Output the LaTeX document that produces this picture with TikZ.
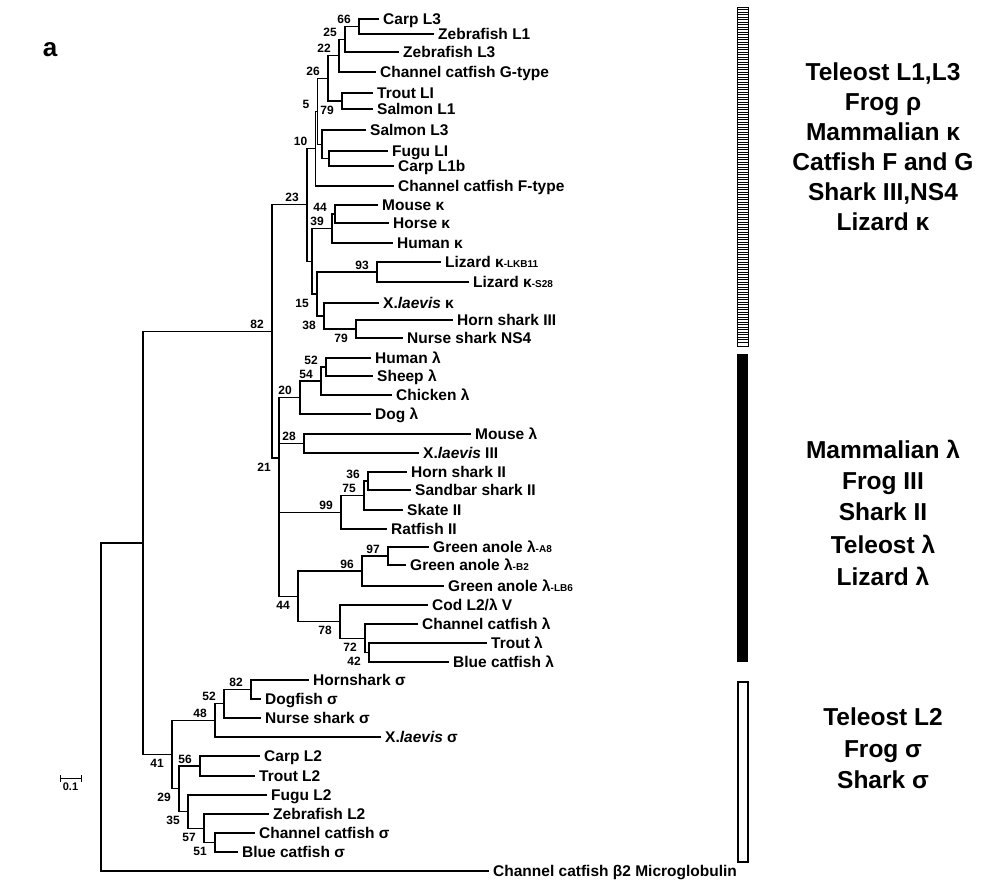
\documentclass[tikz,border=0pt]{standalone}
\usepackage{fontspec}
\setmainfont{Liberation Sans}
\newcommand\Leaf[4]{\coordinate (#1) at (#2,#3); \node[leaf] (#1t) at ([xshift=5pt,yshift=-5.6pt]#1) {#4};}
\newcommand\Br[2]{\draw[br] (#1) |- (#2);}
\newcommand\Ba[3]{\node[bs] (#1) at ([xshift=-8pt,yshift=3pt]#2) {#3};}
\newcommand\Bb[3]{\node[bs] (#1) at ([xshift=-8pt,yshift=-13pt]#2) {#3};}
\newcommand\GL[3]{\node[grp] (#1) at (883,#2) {#3};}
\newcommand\sm[1]{{\fontsize{10}{10}\selectfont #1}}
\begin{document}
\begin{tikzpicture}[x=1pt,y=-1pt,
  br/.style={line width=1.1pt,line cap=rect},
  leaf/.style={anchor=base west,inner sep=0pt,font=\bfseries\fontsize{15.5}{16}\selectfont},
  bs/.style={anchor=base east,inner sep=0pt,font=\bfseries\fontsize{12}{12}\selectfont},
  grp/.style={anchor=base,inner sep=0pt,yshift=-8.8pt,font=\bfseries\fontsize{24.5}{26}\selectfont}]
\useasboundingbox (0,0) rectangle (991,879);
% ---------- leaves ----------
\Leaf{carpL3}{378}{19}{Carp L3}
\Leaf{zfL1}{433}{34}{Zebrafish L1}
\Leaf{zfL3}{398}{52}{Zebrafish L3}
\Leaf{gtype}{375}{72}{Channel catfish G-type}
\Leaf{troutLI}{372}{93}{Trout LI}
\Leaf{salmonL1}{372}{109}{Salmon L1}
\Leaf{salmonL3}{365}{130}{Salmon L3}
\Leaf{fuguLI}{387}{151}{Fugu LI}
\Leaf{carpL1b}{393}{166}{Carp L1b}
\Leaf{ftype}{393}{186}{Channel catfish F-type}
\Leaf{mouseK}{377}{205}{Mouse κ}
\Leaf{horseK}{388}{223}{Horse κ}
\Leaf{humanK}{392}{243}{Human κ}
\Leaf{lkb}{440}{262}{Lizard κ\sm{-LKB11}}
\Leaf{szn}{468}{282}{Lizard κ\sm{-S28}}
\Leaf{xlK}{378}{303}{X.\textit{laevis} κ}
\Leaf{hsIII}{452}{320}{Horn shark III}
\Leaf{nsf}{402}{338}{Nurse shark NS4}
\Leaf{humanL}{370}{358}{Human λ}
\Leaf{sheepL}{372}{376}{Sheep λ}
\Leaf{chickenL}{391}{395}{Chicken λ}
\Leaf{dogL}{370}{414}{Dog λ}
\Leaf{mouseL}{470}{434}{Mouse λ}
\Leaf{xlIII}{418}{453}{X.\textit{laevis} III}
\Leaf{hsII}{406}{472}{Horn shark II}
\Leaf{sandbar}{410}{490}{Sandbar shark II}
\Leaf{skate}{402}{510}{Skate II}
\Leaf{ratfish}{386}{529}{Ratfish II}
\Leaf{gaA}{428}{547}{Green anole λ\sm{-A8}}
\Leaf{gaB}{405}{565}{Green anole λ\sm{-B2}}
\Leaf{gaLB}{443}{586}{Green anole λ\sm{-LB6}}
\Leaf{cod}{427}{605}{Cod L2/λ V}
\Leaf{chcatL}{417}{624}{Channel catfish λ}
\Leaf{troutL}{486}{643}{Trout λ}
\Leaf{bluecatL}{448}{662}{Blue catfish λ}
\Leaf{hornS}{308}{680}{Hornshark σ}
\Leaf{dogS}{260}{699}{Dogfish σ}
\Leaf{nurseS}{260}{718}{Nurse shark σ}
\Leaf{xlS}{380}{737}{X.\textit{laevis} σ}
\Leaf{carpLII}{259}{756}{Carp L2}
\Leaf{troutLII}{254}{776}{Trout L2}
\Leaf{fuguLII}{266}{795}{Fugu L2}
\Leaf{zfLII}{268}{814}{Zebrafish L2}
\Leaf{chcatS}{254}{833}{Channel catfish σ}
\Leaf{bluecatS}{237}{852}{Blue catfish σ}
\Leaf{btwo}{488}{871}{Channel catfish β2 Microglobulin}
% ---------- internal nodes ----------
\coordinate (n66) at (359,26.5);
\coordinate (n25) at (345,39.25);
\coordinate (n22) at (339,55.6);
\coordinate (n79a) at (342,101);
\coordinate (n26) at (328,78.3);
\coordinate (nFC) at (329,158.5);
\coordinate (nSL) at (322,144.25);
\coordinate (n5) at (317.5,111.3);
\coordinate (n10) at (315.5,148.6);
\coordinate (n44k) at (335,214);
\coordinate (n39) at (332,228.5);
\coordinate (n93) at (377,272);
\coordinate (n79b) at (356,329);
\coordinate (n38) at (324,316);
\coordinate (n15) at (317,294);
\coordinate (nX) at (312,261.25);
\coordinate (n23) at (307,204.9);
\coordinate (n52l) at (326,367);
\coordinate (n54) at (321,381);
\coordinate (n20) at (300,397.5);
\coordinate (n28) at (304,443.5);
\coordinate (n36) at (368,481);
\coordinate (n75) at (364,495.5);
\coordinate (n99) at (341,512.25);
\coordinate (n97) at (388,556);
\coordinate (n96) at (362,571);
\coordinate (n42) at (369,652.5);
\coordinate (n72) at (365,638.25);
\coordinate (n78) at (340,621.6);
\coordinate (n44l) at (298,596.3);
\coordinate (n21) at (279,458);
\coordinate (n82) at (272,331.5);
\coordinate (n82s) at (251,689.5);
\coordinate (n52s) at (224,703.75);
\coordinate (n48) at (215,720.4);
\coordinate (n56) at (200,766);
\coordinate (n51) at (215,842.5);
\coordinate (n57) at (204,828.25);
\coordinate (n35) at (188,811.6);
\coordinate (n29) at (179,788.8);
\coordinate (n41) at (172,754.6);
\coordinate (nTop) at (143,543);
\coordinate (root) at (101,707);
% ---------- branches ----------
\Br{n66}{carpL3}\Br{n66}{zfL1}
\Br{n25}{n66}\Br{n25}{zfL3}
\Br{n22}{n25}\Br{n22}{gtype}
\Br{n79a}{troutLI}\Br{n79a}{salmonL1}
\Br{n26}{n22}\Br{n26}{n79a}
\Br{nFC}{fuguLI}\Br{nFC}{carpL1b}
\Br{nSL}{salmonL3}\Br{nSL}{nFC}
\Br{n5}{n26}\Br{n5}{nSL}
\Br{n10}{n5}\Br{n10}{ftype}
\Br{n44k}{mouseK}\Br{n44k}{horseK}
\Br{n39}{n44k}\Br{n39}{humanK}
\Br{n93}{lkb}\Br{n93}{szn}
\Br{n79b}{hsIII}\Br{n79b}{nsf}
\Br{n38}{xlK}\Br{n38}{n79b}
\Br{n15}{n93}\Br{n15}{n38}
\Br{nX}{n39}\Br{nX}{n15}
\Br{n23}{n10}\Br{n23}{nX}
\Br{n52l}{humanL}\Br{n52l}{sheepL}
\Br{n54}{n52l}\Br{n54}{chickenL}
\Br{n20}{n54}\Br{n20}{dogL}
\Br{n28}{mouseL}\Br{n28}{xlIII}
\Br{n36}{hsII}\Br{n36}{sandbar}
\Br{n75}{n36}\Br{n75}{skate}
\Br{n99}{n75}\Br{n99}{ratfish}
\Br{n97}{gaA}\Br{n97}{gaB}
\Br{n96}{n97}\Br{n96}{gaLB}
\Br{n42}{troutL}\Br{n42}{bluecatL}
\Br{n72}{chcatL}\Br{n72}{n42}
\Br{n78}{cod}\Br{n78}{n72}
\Br{n44l}{n96}\Br{n44l}{n78}
\Br{n21}{n20}\Br{n21}{n28}\Br{n21}{n99}\Br{n21}{n44l}
\Br{n82}{n23}\Br{n82}{n21}
\Br{n82s}{hornS}\Br{n82s}{dogS}
\Br{n52s}{n82s}\Br{n52s}{nurseS}
\Br{n48}{n52s}\Br{n48}{xlS}
\Br{n56}{carpLII}\Br{n56}{troutLII}
\Br{n51}{chcatS}\Br{n51}{bluecatS}
\Br{n57}{zfLII}\Br{n57}{n51}
\Br{n35}{fuguLII}\Br{n35}{n57}
\Br{n29}{n56}\Br{n29}{n35}
\Br{n41}{n48}\Br{n41}{n29}
\Br{nTop}{n82}\Br{nTop}{n41}
\Br{root}{nTop}\Br{root}{btwo}
% ---------- bootstrap values ----------
\Ba{b1}{n66}{66}\Ba{b2}{n25}{25}\Ba{b3}{n22}{22}\Ba{b4}{n26}{26}
\Ba{b5}{n5}{5}\Bb{b6}{n79a}{79}\Ba{b7}{n10}{10}\Ba{b8}{n23}{23}
\Ba{b9}{n44k}{44}\Ba{b10}{n39}{39}\Ba{b11}{n93}{93}\Bb{b12}{n15}{15}
\Bb{b13}{n38}{38}\Bb{b14}{n79b}{79}\Ba{b15}{n82}{82}
\Ba{b16}{n52l}{52}\Ba{b17}{n54}{54}\Ba{b18}{n20}{20}\Ba{b19}{n28}{28}
\Bb{b20}{n21}{21}\Ba{b21}{n36}{36}\Ba{b22}{n75}{75}\Ba{b23}{n99}{99}
\Ba{b24}{n97}{97}\Ba{b25}{n96}{96}\Bb{b26}{n44l}{44}\Bb{b27}{n78}{78}
\Bb{b28}{n72}{72}\Bb{b29}{n42}{42}
\Ba{b30}{n82s}{82}\Ba{b31}{n52s}{52}\Ba{b32}{n48}{48}\Bb{b33}{n41}{41}
\Ba{b34}{n56}{56}\Bb{b35}{n29}{29}\Bb{b36}{n35}{35}\Bb{b37}{n57}{57}\Bb{b38}{n51}{51}
% ---------- scale bar ----------
\coordinate (sbl) at (60,778);
\coordinate (sbr) at (81,778);
\draw[line width=1pt] ([yshift=3pt]sbl) -- ([yshift=-4pt]sbl) (sbl) -- (sbr) ([yshift=3pt]sbr) -- ([yshift=-4pt]sbr);
\node[anchor=north,inner sep=0pt,font=\bfseries\fontsize{11}{11}\selectfont] (sbt) at (70.5,783) {0.1};
% ---------- panel letter ----------
\node[anchor=base,inner sep=0pt,font=\bfseries\fontsize{26}{26}\selectfont] (panel) at (50,56) {a};
% ---------- bars ----------
\draw[line width=1pt] (737,7) rectangle (748,346);
\foreach \yy in {9.5,12,...,344} \draw[line width=1pt] (737,\yy) -- (748,\yy);
\fill (737,354) rectangle (748,662);
\draw[line width=1.1pt] (738,682) rectangle (748,862);
% ---------- group labels ----------
\GL{ga}{72}{Teleost L1,L3}
\GL{gb}{102}{Frog ρ}
\GL{gc}{132}{Mammalian κ}
\GL{gd}{162}{Catfish F and G}
\GL{ge}{192}{Shark III,NS4}
\GL{gf}{222}{Lizard κ}
\GL{gg}{450}{Mammalian λ}
\GL{gh}{481}{Frog III}
\GL{gi}{512}{Shark II}
\GL{gj}{545}{Teleost λ}
\GL{gk}{577}{Lizard λ}
\GL{gl}{717}{Teleost L2}
\GL{gm}{749}{Frog σ}
\GL{gn}{780}{Shark σ}
\end{tikzpicture}
\end{document}
